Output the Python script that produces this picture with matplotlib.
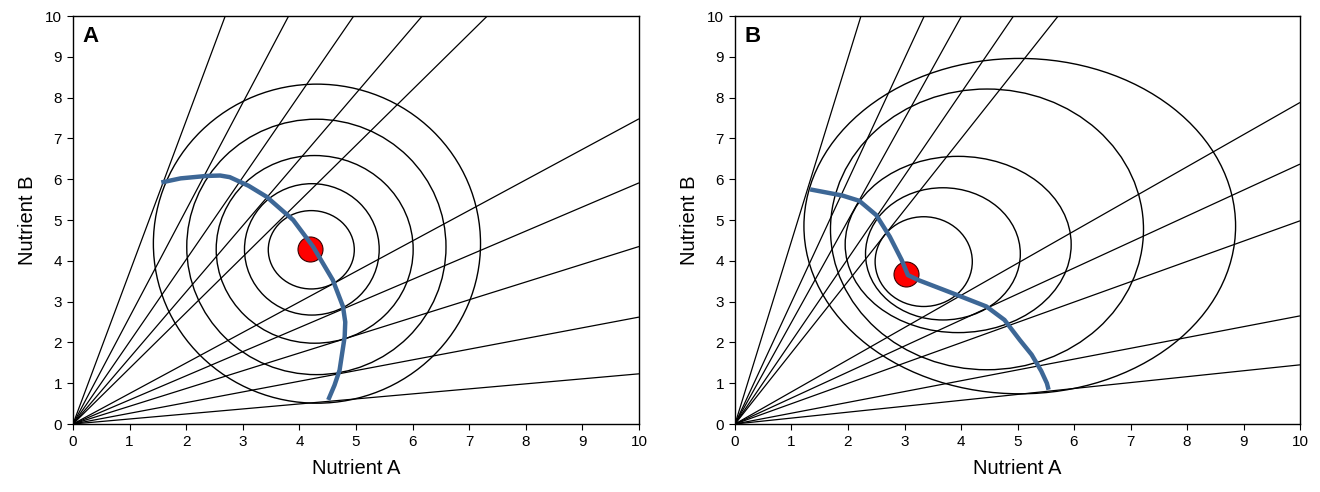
import matplotlib
matplotlib.use("Agg")
import matplotlib.pyplot as plt
from matplotlib.patches import Ellipse

plt.rcParams['font.family'] = ['Liberation Sans', 'DejaVu Sans']

# ---------------- data ----------------
ticks = list(range(0, 11))
x_label = "Nutrient A"
y_label = "Nutrient B"
panel_letters = ["A", "B"]

# rays from origin: x where ray meets top edge (y=10), y where ray meets right edge (x=10)
A_ray_top_x = [2.69, 3.81, 4.96, 6.17, 7.32]
A_ray_right_y = [7.48, 5.91, 4.35, 2.62, 1.23]
B_ray_top_x = [2.23, 3.35, 4.01, 4.93, 5.72]
B_ray_right_y = [7.88, 6.37, 4.98, 2.65, 1.45]

# contour ellipses: centre x, centre y, half-width, half-height (data units)
A_cx = [4.21, 4.22, 4.27, 4.30, 4.31]
A_cy = [4.27, 4.28, 4.28, 4.34, 4.42]
A_rx = [0.76, 1.19, 1.74, 2.29, 2.89]
A_ry = [0.96, 1.61, 2.30, 3.13, 3.91]

B_cx = [3.34, 3.68, 3.95, 4.46, 5.04]
B_cy = [3.98, 4.17, 4.40, 4.77, 4.85]
B_rx = [0.86, 1.37, 2.00, 2.77, 3.82]
B_ry = [1.10, 1.62, 2.16, 3.44, 4.11]

# blue curves
A_curve_x = [1.56, 1.90, 2.36, 2.60, 2.77, 3.10, 3.42, 3.89, 4.24, 4.59, 4.77, 4.81, 4.80, 4.71, 4.62, 4.51]
A_curve_y = [5.92, 6.02, 6.08, 6.09, 6.05, 5.84, 5.57, 5.00, 4.35, 3.53, 2.88, 2.50, 2.14, 1.32, 0.95, 0.59]
B_curve_x = [1.33, 1.90, 2.20, 2.50, 2.74, 2.95, 3.06, 3.24, 3.86, 4.45, 4.77, 5.04, 5.25, 5.42, 5.52, 5.55]
B_curve_y = [5.75, 5.60, 5.47, 5.12, 4.59, 4.02, 3.65, 3.53, 3.20, 2.88, 2.55, 2.06, 1.70, 1.30, 1.00, 0.84]

# optimum points
A_dot = (4.19, 4.28)
B_dot = (3.03, 3.68)

# ---------------- drawing ----------------
fig = plt.figure(figsize=(13.2, 4.92), dpi=100)
axA = fig.add_axes([73/1320, 1 - 424/492, (639 - 73)/1320, (424 - 16)/492])
axB = fig.add_axes([735/1320, 1 - 424/492, (1300 - 735)/1320, (424 - 16)/492])

blue = '#3d6796'

panels = [
    (axA, A_ray_top_x, A_ray_right_y, A_cx, A_cy, A_rx, A_ry, A_curve_x, A_curve_y, A_dot, panel_letters[0]),
    (axB, B_ray_top_x, B_ray_right_y, B_cx, B_cy, B_rx, B_ry, B_curve_x, B_curve_y, B_dot, panel_letters[1]),
]

for ax, rtx, rry, cx, cy, rx, ry, curx, cury, dot, letter in panels:
    for xt in rtx:
        ax.plot([0, xt], [0, 10], color='black', lw=0.9, solid_capstyle='butt')
    for yr in rry:
        ax.plot([0, 10], [0, yr], color='black', lw=0.9, solid_capstyle='butt')
    for x0, y0, a, b in zip(cx, cy, rx, ry):
        ax.add_patch(Ellipse((x0, y0), 2 * a, 2 * b, fill=False, edgecolor='black', lw=1.0))
    ax.plot(dot[0], dot[1], 'o', ms=18, mfc='#ff0000', mec='#3a0000', mew=0.8, zorder=5)
    ax.plot(curx, cury, color=blue, lw=3.2, solid_capstyle='butt', solid_joinstyle='round', zorder=6)

    ax.set_xlim(0, 10)
    ax.set_ylim(0, 10)
    ax.set_xticks(ticks)
    ax.set_yticks(ticks)
    ax.tick_params(direction='out', length=4, width=0.8, labelsize=11, pad=4, colors='black')
    for s in ax.spines.values():
        s.set_linewidth(1.0)
        s.set_color('black')
    ax.set_xlabel(x_label, fontsize=14.5, labelpad=7)
    ax.set_ylabel(y_label, fontsize=14.5, labelpad=6)
    ax.text(0.016, 0.975, letter, transform=ax.transAxes, fontsize=16, fontweight='bold',
            ha='left', va='top')

fig.savefig('out.png', dpi=100)
